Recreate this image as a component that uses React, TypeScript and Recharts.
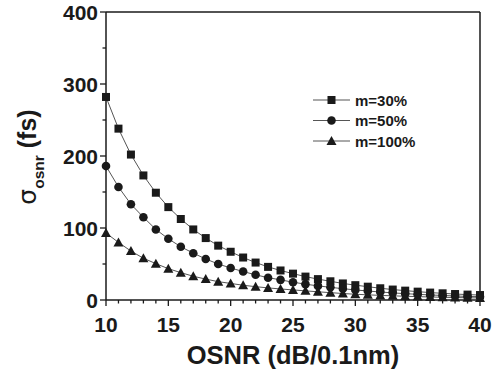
import React from "react";
import {
  LineChart,
  Line,
  XAxis,
  YAxis,
  ReferenceLine,
} from "recharts";

const osnr = [10, 11, 12, 13, 14, 15, 16, 17, 18, 19, 20, 21, 22, 23, 24, 25, 26, 27, 28, 29, 30, 31, 32, 33, 34, 35, 36, 37, 38, 39, 40];
const m30 = [282, 238, 202, 173, 149, 129, 112.5, 98, 86, 75.5, 67, 59, 52, 46, 41, 36.6, 32.5, 29, 26, 23, 20.6, 18.5, 16.3, 14.5, 13, 11.6, 10.3, 9.3, 8.3, 7.5, 6.9];
const m50 = [186, 157, 133, 115, 98, 85, 74, 65, 57, 50, 44.5, 39.5, 35, 31, 28, 24.7, 22, 19.6, 17.6, 15.7, 14, 12.5, 11.1, 9.9, 8.8, 7.9, 7, 6.3, 5.6, 5, 4.5];
const m100 = [93, 80, 68, 58, 50.5, 43.5, 38, 33, 29, 25.5, 23, 20.5, 18.5, 16.8, 15.3, 14, 12.7, 11.4, 10.2, 9, 8, 7.2, 6.4, 5.8, 5.2, 4.7, 4.2, 3.8, 3.4, 3.1, 2.8];
const seriesNames = ["m=30%", "m=50%", "m=100%"];
const xTicks = osnr;
const yTicks = [0, 50, 100, 150, 200, 250, 300, 350, 400];

const data = osnr.map((x, i) => ({ x, m30: m30[i], m50: m50[i], m100: m100[i] }));

const FONT = "'Liberation Sans', Arial, Helvetica, sans-serif";
const INK = "#1a1a1a";
const LINE = "#555";

const Square = ({ cx, cy }: any) => <rect x={cx - 4} y={cy - 4} width={8} height={8} fill={INK} />;
const Dot = ({ cx, cy }: any) => <circle cx={cx} cy={cy} r={4.3} fill={INK} />;
const Tri = ({ cx, cy }: any) => (
  <polygon points={`${cx},${cy - 5} ${cx - 5},${cy + 4} ${cx + 5},${cy + 4}`} fill={INK} />
);

const XTick = ({ x, y, payload }: any) => {
  const major = payload.value % 5 === 0;
  return (
    <g>
      <line x1={x} x2={x} y1={y} y2={y + (major ? 6 : 3.5)} stroke={INK} strokeWidth={1.3} />
      {major && (
        <text x={x} y={y + 31.5} textAnchor="middle" fontFamily={FONT} fontWeight="bold" fontSize={21} fill={INK}>
          {payload.value}
        </text>
      )}
    </g>
  );
};

const YTick = ({ x, y, payload }: any) => {
  const major = payload.value % 100 === 0;
  return (
    <g>
      <line x1={x - (major ? 6 : 3.5)} x2={x} y1={y} y2={y} stroke={INK} strokeWidth={1.3} />
      {major && (
        <text x={x - 8} y={y + 7.5} textAnchor="end" fontFamily={FONT} fontWeight="bold" fontSize={21} fill={INK}>
          {payload.value}
        </text>
      )}
    </g>
  );
};

const XTitle = () => (
  <text x={293} y={364} textAnchor="middle" fontFamily={FONT} fontWeight="bold" fontSize={25.5} fill={INK}>
    OSNR (dB/0.1nm)
  </text>
);

const YTitle = () => (
  <text
    transform="translate(36,157) rotate(-90)"
    textAnchor="middle"
    fontFamily={FONT}
    fontWeight="bold"
    fontSize={25}
    fill={INK}
  >
    <tspan fontWeight="normal" fontFamily="'DejaVu Sans', sans-serif">σ</tspan>
    <tspan fontSize={15.5} dy={8}>osnr</tspan>
    <tspan dy={-8}> (fs)</tspan>
  </text>
);

const markers = [Square, Dot, Tri];

const LegendBox = () => (
  <svg width={130} height={64} style={{ position: "absolute", left: 310, top: 88 }}>
    {seriesNames.map((name, i) => {
      const y = 12 + i * 20.5;
      const M = markers[i];
      return (
        <g key={name}>
          <line x1={3} x2={40} y1={y} y2={y} stroke={LINE} strokeWidth={1} />
          <M cx={21.5} cy={y} />
          <text x={45} y={y + 5.5} fontFamily={FONT} fontWeight="bold" fontSize={15} fill={INK}>
            {name}
          </text>
        </g>
      );
    })}
  </svg>
);

export default function App() {
  return (
    <div style={{ position: "absolute", left: 0, top: 0, width: 500, height: 371, background: "#fff" }}>
      <LineChart width={500} height={371} data={data} margin={{ top: 12, right: 20, left: 0, bottom: 0 }}>
        <XAxis
          dataKey="x"
          type="number"
          domain={[10, 40]}
          ticks={xTicks}
          interval={0}
          tickSize={0}
          tickMargin={0}
          tick={<XTick />}
          tickLine={false}
          axisLine={{ stroke: INK, strokeWidth: 1.5 }}
          height={71}
          label={<XTitle />}
        />
        <YAxis
          type="number"
          domain={[0, 400]}
          ticks={yTicks}
          interval={0}
          tickSize={0}
          tickMargin={0}
          tick={<YTick />}
          tickLine={false}
          axisLine={{ stroke: INK, strokeWidth: 1.5 }}
          width={106}
          label={<YTitle />}
        />
        <ReferenceLine y={400} stroke={INK} strokeWidth={1.5} ifOverflow="visible" />
        <ReferenceLine x={40} stroke={INK} strokeWidth={1.5} ifOverflow="visible" />
        <Line dataKey="m30" name={seriesNames[0]} stroke={LINE} strokeWidth={1} isAnimationActive={false}
          dot={(p: any) => <Square key={`s${p.index}`} cx={p.cx} cy={p.cy} />} activeDot={false} />
        <Line dataKey="m50" name={seriesNames[1]} stroke={LINE} strokeWidth={1} isAnimationActive={false}
          dot={(p: any) => <Dot key={`c${p.index}`} cx={p.cx} cy={p.cy} />} activeDot={false} />
        <Line dataKey="m100" name={seriesNames[2]} stroke={LINE} strokeWidth={1} isAnimationActive={false}
          dot={(p: any) => <Tri key={`t${p.index}`} cx={p.cx} cy={p.cy} />} activeDot={false} />
      </LineChart>
      <LegendBox />
    </div>
  );
}
